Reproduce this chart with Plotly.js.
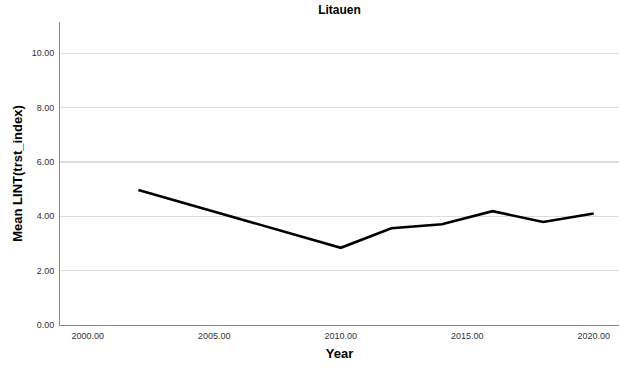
<!DOCTYPE html>
<html>
<head>
<meta charset="utf-8">
<script src="https://cdn.plot.ly/plotly-3.0.1.min.js"></script>
<style>html,body{margin:0;padding:0;background:#fff;}#chart{width:620px;height:369px;}</style>
</head>
<body>
<div id="chart"></div>
<script>
const years = [2002, 2010, 2012, 2014, 2016, 2018, 2020];
const meanTrust = [4.97, 2.84, 3.56, 3.71, 4.19, 3.79, 4.10];
const xTicks = [2000, 2005, 2010, 2015, 2020];
const yTicks = [0, 2, 4, 6, 8, 10];

const trace = {
  x: years, y: meanTrust, type: 'scatter', mode: 'lines',
  line: {color: '#000000', width: 2.6}, hoverinfo: 'skip'
};
const tickFont = {family: 'Liberation Sans, Arial, sans-serif', size: 9, color: '#333333'};
const titleFont = {family: 'Liberation Sans, Arial, sans-serif', size: 13, color: '#000000', weight: 'bold'};
const layout = {
  width: 620, height: 369,
  margin: {l: 60, r: 1, t: 22, b: 44, pad: 0},
  paper_bgcolor: '#ffffff', plot_bgcolor: '#ffffff',
  showlegend: false,
  title: {text: '<b>Litauen</b>', x: 0.5, xref: 'paper', y: 0.985, yref: 'container', yanchor: 'top',
          font: {family: 'Liberation Sans, Arial, sans-serif', size: 12, color: '#000'}},
  xaxis: {
    range: [1998.9, 2021.0], tickvals: xTicks, ticktext: xTicks.map(v => v.toFixed(2)),
    showgrid: false, zeroline: false, showline: true, linecolor: '#888888', linewidth: 1,
    ticks: '', tickfont: tickFont, ticklabelstandoff: 2,
    title: {text: '<b>Year</b>', font: titleFont, standoff: 9}
  },
  yaxis: {
    range: [0, 11.15], tickvals: yTicks, ticktext: yTicks.map(v => v.toFixed(2)),
    showgrid: true, gridcolor: '#dddddd', gridwidth: 1.3, zeroline: false,
    showline: true, linecolor: '#888888', linewidth: 1,
    ticks: '', tickfont: tickFont, ticklabelstandoff: 3,
    title: {text: '<b>Mean LINT(trst_index)</b>', font: titleFont, standoff: 6}
  }
};
Plotly.newPlot('chart', [trace], layout, {staticPlot: true, displayModeBar: false});
</script>
</body>
</html>
